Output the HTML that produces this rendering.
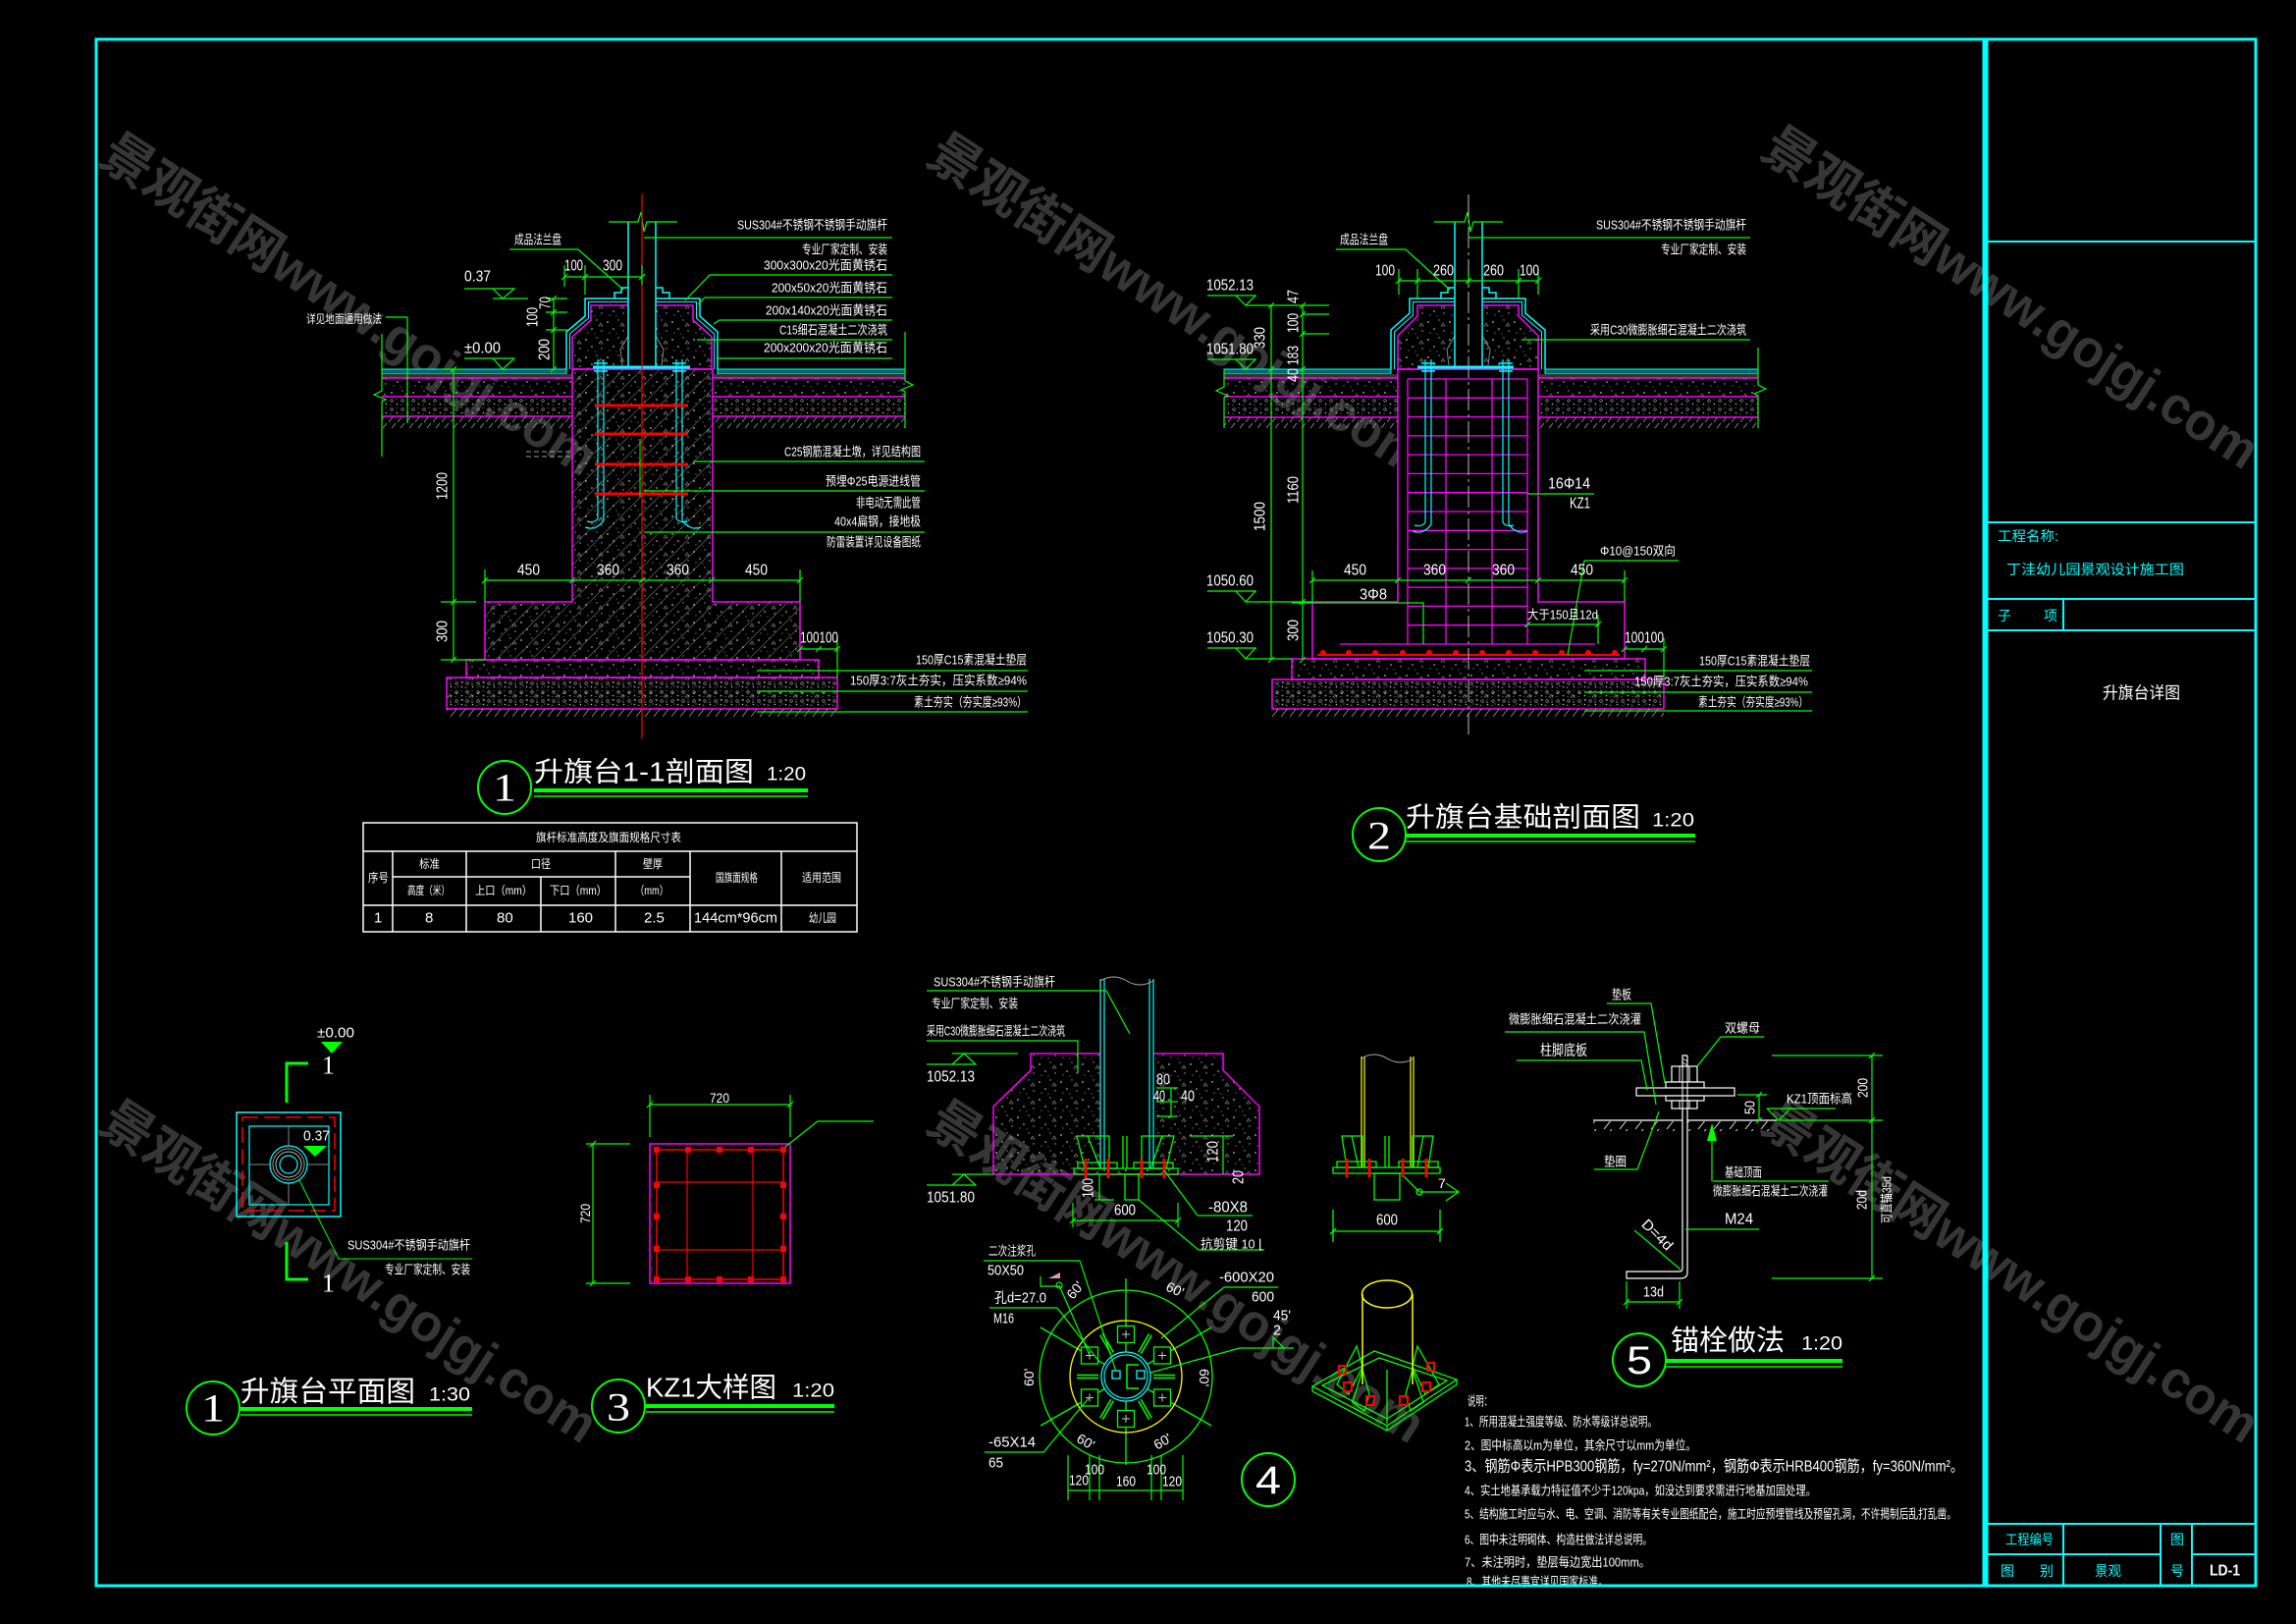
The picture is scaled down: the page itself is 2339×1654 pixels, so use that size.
<!DOCTYPE html>
<html><head><meta charset="utf-8"><style>
html,body{margin:0;padding:0;background:#000;}
svg{display:block;}
text{font-family:"Liberation Sans","Noto Sans CJK SC",sans-serif;fill:#fff;dominant-baseline:central;}
.cy{fill:#0ff;}
.wm text{fill:#363636;font-weight:bold;}
.sr{font-family:"Liberation Serif","Noto Serif CJK SC",serif;}
</style></head><body>
<svg width="2339" height="1654" viewBox="0 0 2339 1654" xmlns="http://www.w3.org/2000/svg">
<defs>
<pattern id="conc" width="22" height="18" patternUnits="userSpaceOnUse">
<circle cx="3" cy="4" r="0.9" fill="#bbb"/><circle cx="14" cy="2" r="0.7" fill="#999"/><circle cx="9" cy="11" r="0.8" fill="#ccc"/><circle cx="19" cy="13" r="0.7" fill="#aaa"/><circle cx="5" cy="15" r="0.6" fill="#999"/><circle cx="12" cy="16" r="0.5" fill="#bbb"/><path d="M16 8l2-3l2 3z" fill="none" stroke="#999" stroke-width="0.6"/>
</pattern>
<pattern id="lime" width="11" height="9" patternUnits="userSpaceOnUse">
<circle cx="3" cy="3" r="1.3" fill="none" stroke="#aaa" stroke-width="0.6"/><circle cx="8.5" cy="6.5" r="0.8" fill="#bbb"/><circle cx="8" cy="1.5" r="0.5" fill="#999"/><circle cx="2" cy="7.5" r="0.5" fill="#aaa"/>
</pattern>
<pattern id="hatch" width="13" height="13" patternUnits="userSpaceOnUse" patternTransform="rotate(45)">
<line x1="0" y1="0" x2="0" y2="13" stroke="#9a9a9a" stroke-width="0.9"/>
</pattern>
<pattern id="earth" width="9" height="10" patternUnits="userSpaceOnUse">
<line x1="0" y1="10" x2="7" y2="1" stroke="#999" stroke-width="0.8"/>
</pattern>
<pattern id="earthw" width="16" height="10" patternUnits="userSpaceOnUse">
<line x1="2" y1="10" x2="10" y2="0" stroke="#ddd" stroke-width="1"/>
</pattern>
</defs>

<!-- watermarks -->
<g class="wm" font-size="54">
<text x="108" y="150" transform="rotate(33 108 150)" textLength="590" lengthAdjust="spacingAndGlyphs">景观街网www.gojgj.com</text>
<text x="951" y="150" transform="rotate(33 951 150)" textLength="590" lengthAdjust="spacingAndGlyphs">景观街网www.gojgj.com</text>
<text x="1801" y="143" transform="rotate(33 1801 143)" textLength="590" lengthAdjust="spacingAndGlyphs">景观街网www.gojgj.com</text>
<text x="108" y="1135" transform="rotate(33 108 1135)" textLength="590" lengthAdjust="spacingAndGlyphs">景观街网www.gojgj.com</text>
<text x="951" y="1135" transform="rotate(33 951 1135)" textLength="590" lengthAdjust="spacingAndGlyphs">景观街网www.gojgj.com</text>
<text x="1801" y="1135" transform="rotate(33 1801 1135)" textLength="590" lengthAdjust="spacingAndGlyphs">景观街网www.gojgj.com</text>
</g>

<!-- frame -->
<rect x="98" y="40" width="2200" height="1575" fill="none" stroke="#0ff" stroke-width="3"/>
<line x1="2022.5" y1="40" x2="2022.5" y2="1615" stroke="#0ff" stroke-width="6"/>
<path d="M2025 246H2298M2025 532H2298M2025 610H2298M2025 642H2298M2102 610V642M2025 1552H2298M2025 1583H2201M2233 1583H2298M2102 1552V1615M2201 1552V1615M2233 1552V1615" stroke="#0ff" stroke-width="2" fill="none"/>
<g font-size="14">
<text class="cy" x="2035" y="546" textLength="62" lengthAdjust="spacingAndGlyphs">工程名称:</text>
<text class="cy" x="2044" y="580" textLength="181" lengthAdjust="spacingAndGlyphs">丁洼幼儿园景观设计施工图</text>
<text class="cy" x="2035" y="627">子</text>
<text class="cy" x="2082" y="627">项</text>
<text x="2142" y="706" font-size="17" textLength="79" lengthAdjust="spacingAndGlyphs">升旗台详图</text>
<text class="cy" x="2043" y="1568" textLength="49" lengthAdjust="spacingAndGlyphs">工程编号</text>
<text class="cy" x="2038" y="1600">图</text>
<text class="cy" x="2078" y="1600">别</text>
<text class="cy" x="2134" y="1600" textLength="27" lengthAdjust="spacingAndGlyphs">景观</text>
<text class="cy" x="2211" y="1568">图</text>
<text class="cy" x="2211" y="1600">号</text>
<text x="2251" y="1600" font-size="16" font-weight="bold" textLength="31" lengthAdjust="spacingAndGlyphs">LD-1</text>
</g>

<!-- ================= SECTION 1 ================= -->
<g>
<rect x="389" y="376" width="188" height="5" fill="#066" stroke="#0ff" stroke-width="1"/>
<rect x="731" y="376" width="191" height="5" fill="#066" stroke="#0ff" stroke-width="1"/>
<rect x="389" y="381" width="194" height="4" fill="#333"/>
<rect x="726" y="381" width="196" height="4" fill="#333"/>
<rect x="389" y="385" width="194" height="19" fill="url(#conc)"/>
<rect x="726" y="385" width="196" height="19" fill="url(#conc)"/>
<rect x="389" y="404" width="194" height="20" fill="url(#lime)"/>
<rect x="726" y="404" width="196" height="20" fill="url(#lime)"/>
<rect x="389" y="424" width="194" height="12" fill="url(#earth)"/>
<rect x="726" y="424" width="196" height="12" fill="url(#earth)"/>
<path d="M389 385H583M389 404H583M389 424H583M726 385H922M726 404H922M726 424H922" stroke="#f0f" stroke-width="1.5"/>
<path d="M583 376H726V613H815V672H494V613H583Z" fill="url(#hatch)"/>
<path d="M583 376H726V613H815V672H494V613H583Z" fill="url(#conc)" stroke="#f0f" stroke-width="1.5"/>
<rect x="475" y="672" width="359" height="18" fill="url(#conc)" stroke="#f0f" stroke-width="1.5"/>
<rect x="455" y="690" width="398" height="32" fill="url(#lime)"/>
<rect x="455" y="690" width="398" height="32" fill="url(#conc)" stroke="#f0f" stroke-width="1.5"/>
<rect x="455" y="722" width="398" height="9" fill="url(#earth)"/>
<path d="M583 376V343L602 326V311H706V326L725 343V376Z" fill="url(#conc)" stroke="#f0f" stroke-width="1.5"/>
<path d="M577 376V338L596 322V304H713V322L731 338V376" fill="none" stroke="#0ff" stroke-width="1.5"/>
<path d="M580.5 376V340L599.5 324V307.5H709.5V324L727.5 340V376" fill="none" stroke="#0ff" stroke-width="1"/>
<rect x="640" y="290" width="28" height="84" fill="#000"/>
<path d="M634 372L632 356L640 342M674 372L676 356L668 342" stroke="#888" fill="none"/>
<path d="M640 226V374M668 226V374" stroke="#0ff" stroke-width="1.5"/>
<path d="M620 226H650L653 216L656 236L659 226H690" stroke="#0f0" fill="none" stroke-width="1.2"/>
<path d="M626 304V298H633V293H640M682 304V298H675V293H668" stroke="#0ff" fill="none" stroke-width="1.5"/>
<path d="M604 374H703" stroke="#0ff" stroke-width="3"/>
<path d="M609 366V528Q606 533 598 531M615 366V530Q607 541 596 537M689 366V528Q692 533 700 531M695 366V530Q703 541 714 537" stroke="#0ff" fill="none" stroke-width="1.2"/>
<path d="M605 370H619M605 378H619M685 370H699M685 378H699" stroke="#0ff" stroke-width="1.6"/>
<path d="M606 413H701M606 442H701M606 473H701M606 503H701" stroke="#f00" stroke-width="3"/>
<path d="M536 460H582M536 465H582" stroke="#999" stroke-dasharray="5 3"/>
<line x1="654" y1="198" x2="654" y2="752" stroke="#f00" stroke-width="1.2"/>
<path d="M652 447V505" stroke="#0f0"/>
<path d="M389 340V398L381 402L393 407L389 409V465M415 323V431M393 323H415" stroke="#0f0" fill="none" stroke-width="1.2"/>
<path d="M922 338V388L930 392L918 397L922 399V436" stroke="#0f0" fill="none" stroke-width="1.2"/>
<g stroke="#0f0" stroke-width="1.2" fill="none">
<path d="M462 376V672M449 613H485M449 672H494M449 376H472"/>
<path d="M459 379l6-6M459 616l6-6M459 675l6-6"/>
<path d="M564 304V376M556 304H578M556 318H578M556 336H578"/>
<path d="M561 307l6-6M561 321l6-6M561 339l6-6M561 379l6-6"/>
<path d="M575 282H654M575 270V292M596 270V300M654 270V290"/>
<path d="M572 285l6-6M593 285l6-6M651 285l6-6"/>
<path d="M494 591H815M494 580V613M815 580V613"/>
<path d="M491 594l6-6M580 594l6-6M651 594l6-6M722 594l6-6M812 594l6-6"/>
<path d="M815 661H853M853 648V690"/>
<path d="M812 664l6-6M831 664l6-6M850 664l6-6"/>
<path d="M473 294H524L512 304L502 294M502 304H538"/>
<path d="M473 365H524L512 376L502 365"/>
<path d="M519 254H589L635 295"/>
<path d="M656 242H909M698 306L723 280H909M711 310L718 303H909M727 330L733 326H909M710 346H909M730 365H909"/>
<path d="M706 470H942M656 500H942M656 542H942"/>
<path d="M771 683H1047M771 704H1047M771 725H1047"/>
</g>
<g font-size="13">
<text x="524" y="244" textLength="48" lengthAdjust="spacingAndGlyphs">成品法兰盘</text>
<text x="312" y="325" font-size="12" textLength="77" lengthAdjust="spacingAndGlyphs">详见地面通用做法</text>
<text x="751" y="229" textLength="153" lengthAdjust="spacingAndGlyphs">SUS304#不锈钢不锈钢手动旗杆</text>
<text x="817" y="254" textLength="87" lengthAdjust="spacingAndGlyphs">专业厂家定制、安装</text>
<text x="778" y="270" textLength="126" lengthAdjust="spacingAndGlyphs">300x300x20光面黄锈石</text>
<text x="786" y="293" textLength="118" lengthAdjust="spacingAndGlyphs">200x50x20光面黄锈石</text>
<text x="780" y="316" textLength="124" lengthAdjust="spacingAndGlyphs">200x140x20光面黄锈石</text>
<text x="794" y="336" textLength="110" lengthAdjust="spacingAndGlyphs">C15细石混凝土二次浇筑</text>
<text x="778" y="354" textLength="126" lengthAdjust="spacingAndGlyphs">200x200x20光面黄锈石</text>
<text x="799" y="460" textLength="139" lengthAdjust="spacingAndGlyphs">C25钢筋混凝土墩，详见结构图</text>
<text x="841" y="490" textLength="97" lengthAdjust="spacingAndGlyphs">预埋Φ25电源进线管</text>
<text x="872" y="512" textLength="66" lengthAdjust="spacingAndGlyphs">非电动无需此管</text>
<text x="850" y="531" textLength="88" lengthAdjust="spacingAndGlyphs">40x4扁钢，接地极</text>
<text x="842" y="552" textLength="96" lengthAdjust="spacingAndGlyphs">防雷装置详见设备图纸</text>
<text x="933" y="672" textLength="113" lengthAdjust="spacingAndGlyphs">150厚C15素混凝土垫层</text>
<text x="866" y="693" textLength="180" lengthAdjust="spacingAndGlyphs">150厚3:7灰土夯实，压实系数≥94%</text>
<text x="931" y="715" textLength="115" lengthAdjust="spacingAndGlyphs">素土夯实（夯实度≥93%）</text>
</g>
<g font-size="16">
<text x="575" y="271" textLength="19" lengthAdjust="spacingAndGlyphs">100</text>
<text x="614" y="271" textLength="20" lengthAdjust="spacingAndGlyphs">300</text>
<text x="473" y="282" textLength="27" lengthAdjust="spacingAndGlyphs">0.37</text>
<text x="473" y="355" textLength="37" lengthAdjust="spacingAndGlyphs">±0.00</text>
<text x="549" y="308" transform="rotate(-90 556 308)" textLength="13" lengthAdjust="spacingAndGlyphs">70</text>
<text x="533" y="323" transform="rotate(-90 543 323)" textLength="20" lengthAdjust="spacingAndGlyphs">100</text>
<text x="544" y="356" transform="rotate(-90 555 356)" textLength="22" lengthAdjust="spacingAndGlyphs">200</text>
<text x="437" y="495" transform="rotate(-90 451 495)" textLength="28" lengthAdjust="spacingAndGlyphs">1200</text>
<text x="440" y="643" transform="rotate(-90 451 643)" textLength="22" lengthAdjust="spacingAndGlyphs">300</text>
<text x="527" y="581" textLength="23" lengthAdjust="spacingAndGlyphs">450</text>
<text x="608" y="581" textLength="23" lengthAdjust="spacingAndGlyphs">360</text>
<text x="679" y="581" textLength="23" lengthAdjust="spacingAndGlyphs">360</text>
<text x="759" y="581" textLength="23" lengthAdjust="spacingAndGlyphs">450</text>
<text x="815" y="650" textLength="39" lengthAdjust="spacingAndGlyphs">100100</text>
</g>
<circle cx="514" cy="802" r="27" fill="none" stroke="#0f0" stroke-width="2"/>
<text class="sr" x="502" y="802" font-size="40" textLength="24" lengthAdjust="spacingAndGlyphs">1</text>
<text x="544" y="786" font-size="28" textLength="224" lengthAdjust="spacingAndGlyphs">升旗台1-1剖面图</text>
<text x="781" y="789" font-size="19" textLength="40" lengthAdjust="spacingAndGlyphs">1:20</text>
<path d="M544 805H823" stroke="#0f0" stroke-width="4"/>
<path d="M544 811H823" stroke="#0f0" stroke-width="1.5"/>
</g>

<!-- table -->
<g stroke="#fff" stroke-width="1.5" fill="none">
<rect x="370" y="838" width="503" height="111"/>
<path d="M370 867H873M400 893H703M370 922H873M400 867V949M475 867V949M551 893V949M627 867V949M703 867V949M796 867V949"/>
</g>
<g font-size="12">
<text x="546" y="853" textLength="148" lengthAdjust="spacingAndGlyphs">旗杆标准高度及旗面规格尺寸表</text>
<text x="375" y="894" textLength="21" lengthAdjust="spacingAndGlyphs">序号</text>
<text x="427" y="880" textLength="21" lengthAdjust="spacingAndGlyphs">标准</text>
<text x="415" y="907" textLength="43" lengthAdjust="spacingAndGlyphs">高度（米）</text>
<text x="541" y="880" textLength="20" lengthAdjust="spacingAndGlyphs">口径</text>
<text x="484" y="907" textLength="58" lengthAdjust="spacingAndGlyphs">上口（mm）</text>
<text x="560" y="907" textLength="58" lengthAdjust="spacingAndGlyphs">下口（mm）</text>
<text x="655" y="880" textLength="20" lengthAdjust="spacingAndGlyphs">壁厚</text>
<text x="647" y="907" textLength="34" lengthAdjust="spacingAndGlyphs">（mm）</text>
<text x="729" y="894" textLength="43" lengthAdjust="spacingAndGlyphs">国旗面规格</text>
<text x="817" y="894" textLength="40" lengthAdjust="spacingAndGlyphs">适用范围</text>
<text x="381" y="935" font-size="15">1</text>
<text x="433" y="935" font-size="15">8</text>
<text x="506" y="935" font-size="15">80</text>
<text x="579" y="935" font-size="15">160</text>
<text x="656" y="935" font-size="15">2.5</text>
<text x="707" y="935" font-size="15" textLength="85" lengthAdjust="spacingAndGlyphs">144cm*96cm</text>
<text x="824" y="935" textLength="28" lengthAdjust="spacingAndGlyphs">幼儿园</text>
</g>

<!-- ================= SECTION 2 ================= -->
<g>
<rect x="1247" y="376" width="170" height="5" fill="#066" stroke="#0ff" stroke-width="1"/>
<rect x="1574" y="376" width="217" height="5" fill="#066" stroke="#0ff" stroke-width="1"/>
<rect x="1247" y="381" width="177" height="4" fill="#333"/>
<rect x="1567" y="381" width="224" height="4" fill="#333"/>
<rect x="1247" y="385" width="177" height="19" fill="url(#conc)"/>
<rect x="1567" y="385" width="224" height="19" fill="url(#conc)"/>
<rect x="1247" y="404" width="177" height="21" fill="url(#lime)"/>
<rect x="1567" y="404" width="224" height="21" fill="url(#lime)"/>
<rect x="1247" y="425" width="177" height="11" fill="url(#earth)"/>
<rect x="1567" y="425" width="224" height="11" fill="url(#earth)"/>
<path d="M1247 385H1424M1247 404H1424M1247 425H1424M1567 385H1791M1567 404H1791M1567 425H1791" stroke="#f0f" stroke-width="1.5"/>
<path d="M1424 376H1567V613H1655V671H1337V613H1424Z" fill="#000" stroke="#f0f" stroke-width="1.5"/>
<rect x="1316" y="671" width="360" height="21" fill="url(#conc)" stroke="#f0f" stroke-width="1.5"/>
<rect x="1296" y="692" width="399" height="30" fill="url(#lime)"/>
<rect x="1296" y="692" width="399" height="30" fill="url(#conc)" stroke="#f0f" stroke-width="1.5"/>
<rect x="1296" y="722" width="399" height="9" fill="url(#earth)"/>
<path d="M1434 386V656M1473 386V656M1520 386V656M1556 386V656M1434 386H1556M1434 405.3H1556M1434 424.6H1556M1434 443.9H1556M1434 463.1H1556M1434 482.4H1556M1434 501.7H1556M1434 521H1556M1434 540.3H1556M1434 559.6H1556M1434 578.9H1556M1434 598.1H1556M1434 617.4H1556M1434 636.7H1556M1365 656H1625" stroke="#f0f" stroke-width="1.3"/>
<path d="M1342 667H1650" stroke="#f00" stroke-width="2"/>
<g fill="#f00"><circle cx="1348" cy="665" r="3"/><circle cx="1374" cy="665" r="3"/><circle cx="1401" cy="665" r="3"/><circle cx="1429" cy="665" r="3"/><circle cx="1456" cy="665" r="3"/><circle cx="1483" cy="665" r="3"/><circle cx="1510" cy="665" r="3"/><circle cx="1537" cy="665" r="3"/><circle cx="1564" cy="665" r="3"/><circle cx="1591" cy="665" r="3"/><circle cx="1618" cy="665" r="3"/><circle cx="1645" cy="665" r="3"/></g>
<path d="M1424 376V342L1444 322V311H1547V322L1567 342V376Z" fill="url(#conc)" stroke="#f0f" stroke-width="1.5"/>
<path d="M1417 376V336L1436 319V304H1554V319L1574 336V376" fill="none" stroke="#0ff" stroke-width="1.5"/>
<path d="M1420.5 376V338L1439.5 321V307.5H1550.5V321L1570.5 338V376" fill="none" stroke="#0ff" stroke-width="1"/>
<rect x="1482" y="290" width="28" height="84" fill="#000"/>
<path d="M1476 372L1474 356L1482 342M1516 372L1518 356L1510 342" stroke="#888" fill="none"/>
<path d="M1482 226V374M1510 226V374" stroke="#0ff" stroke-width="1.5"/>
<path d="M1461 226H1492L1495 216L1498 236L1501 226H1531" stroke="#0f0" fill="none" stroke-width="1.2"/>
<path d="M1468 304V298H1475V293H1482M1524 304V298H1517V293H1510" stroke="#0ff" fill="none" stroke-width="1.5"/>
<path d="M1444 374H1542" stroke="#0ff" stroke-width="3"/>
<path d="M1452 366V532Q1449 537 1441 535M1458 366V534Q1450 545 1439 541M1531 366V532Q1534 537 1542 535M1537 366V534Q1545 545 1556 541" stroke="#0ff" fill="none" stroke-width="1.2"/>
<path d="M1448 370H1462M1448 378H1462M1527 370H1541M1527 378H1541" stroke="#0ff" stroke-width="1.6"/>
<line x1="1496" y1="198" x2="1496" y2="752" stroke="#aaa" stroke-width="1.1" stroke-dasharray="22 4 3 4"/>
<path d="M1247 376V394L1239 398L1251 403L1247 405V436" stroke="#0f0" fill="none" stroke-width="1.2"/>
<path d="M1791 354V392L1799 396L1787 401L1791 403V436" stroke="#0f0" fill="none" stroke-width="1.2"/>
<g stroke="#0f0" stroke-width="1.2" fill="none">
<path d="M1230 301H1280M1259 301L1269 311L1279 301M1269 311H1354"/>
<path d="M1230 366H1280M1259 366L1269 376L1279 366"/>
<path d="M1230 602H1280M1259 602L1269 613L1279 602M1269 613H1337"/>
<path d="M1230 660H1280M1259 660L1269 671L1279 660M1269 671H1316"/>
<path d="M1295 311V672M1292 314l6-6M1292 379l6-6M1292 675l6-6"/>
<path d="M1327 311V672M1327 320H1354M1327 340H1354M1324 314l6-6M1324 323l6-6M1324 343l6-6M1324 379l6-6M1324 616l6-6M1324 675l6-6"/>
<path d="M1425 286H1567M1425 274V300M1444 274V304M1496 274V290M1547 274V304M1567 274V300"/>
<path d="M1422 289l6-6M1441 289l6-6M1493 289l6-6M1544 289l6-6M1564 289l6-6"/>
<path d="M1337 591H1655M1337 581V613M1655 581V613"/>
<path d="M1334 594l6-6M1421 594l6-6M1493 594l6-6M1564 594l6-6M1652 594l6-6"/>
<path d="M1316 614H1450V656"/>
<path d="M1556 636H1628M1553 639l6-6M1625 639l6-6M1628 626V656"/>
<path d="M1614 571H1710M1614 571L1597 667"/>
<path d="M1556 503H1624"/>
<path d="M1655 661H1695M1695 650V692M1652 664l6-6M1672 664l6-6M1692 664l6-6"/>
<path d="M1496 242H1783M1550 346H1783M1361 254H1432L1477 295"/>
<path d="M1614 683H1846M1614 705H1846M1614 724H1846"/>
</g>
<g font-size="13">
<text x="1365" y="244" textLength="49" lengthAdjust="spacingAndGlyphs">成品法兰盘</text>
<text x="1626" y="229" textLength="153" lengthAdjust="spacingAndGlyphs">SUS304#不锈钢不锈钢手动旗杆</text>
<text x="1692" y="254" textLength="87" lengthAdjust="spacingAndGlyphs">专业厂家定制、安装</text>
<text x="1620" y="336" textLength="159" lengthAdjust="spacingAndGlyphs">采用C30微膨胀细石混凝土二次浇筑</text>
<text x="1731" y="673" textLength="113" lengthAdjust="spacingAndGlyphs">150厚C15素混凝土垫层</text>
<text x="1665" y="694" textLength="177" lengthAdjust="spacingAndGlyphs">150厚3:7灰土夯实，压实系数≥94%</text>
<text x="1730" y="715" textLength="112" lengthAdjust="spacingAndGlyphs">素土夯实（夯实度≥93%）</text>
<text x="1630" y="561" textLength="77" lengthAdjust="spacingAndGlyphs">Φ10@150双向</text>
<text x="1556" y="626" textLength="72" lengthAdjust="spacingAndGlyphs">大于150且12d</text>
</g>
<g font-size="16">
<text x="1229" y="291" textLength="48" lengthAdjust="spacingAndGlyphs">1052.13</text>
<text x="1229" y="356" textLength="48" lengthAdjust="spacingAndGlyphs">1051.80</text>
<text x="1229" y="592" textLength="48" lengthAdjust="spacingAndGlyphs">1050.60</text>
<text x="1229" y="650" textLength="48" lengthAdjust="spacingAndGlyphs">1050.30</text>
<text x="1273" y="344" transform="rotate(-90 1284 344)" textLength="22" lengthAdjust="spacingAndGlyphs">330</text>
<text x="1269" y="526" transform="rotate(-90 1284 526)" textLength="30" lengthAdjust="spacingAndGlyphs">1500</text>
<text x="1311" y="302" transform="rotate(-90 1318 302)" textLength="14" lengthAdjust="spacingAndGlyphs">47</text>
<text x="1308" y="329" transform="rotate(-90 1318 329)" textLength="20" lengthAdjust="spacingAndGlyphs">100</text>
<text x="1308" y="362" transform="rotate(-90 1318 362)" textLength="20" lengthAdjust="spacingAndGlyphs">183</text>
<text x="1311" y="382" transform="rotate(-90 1318 382)" textLength="14" lengthAdjust="spacingAndGlyphs">40</text>
<text x="1304" y="499" transform="rotate(-90 1318 499)" textLength="28" lengthAdjust="spacingAndGlyphs">1160</text>
<text x="1307" y="642" transform="rotate(-90 1318 642)" textLength="22" lengthAdjust="spacingAndGlyphs">300</text>
<text x="1401" y="276" textLength="20" lengthAdjust="spacingAndGlyphs">100</text>
<text x="1460" y="276" textLength="21" lengthAdjust="spacingAndGlyphs">260</text>
<text x="1511" y="276" textLength="21" lengthAdjust="spacingAndGlyphs">260</text>
<text x="1548" y="276" textLength="20" lengthAdjust="spacingAndGlyphs">100</text>
<text x="1369" y="581" textLength="23" lengthAdjust="spacingAndGlyphs">450</text>
<text x="1450" y="581" textLength="23" lengthAdjust="spacingAndGlyphs">360</text>
<text x="1520" y="581" textLength="23" lengthAdjust="spacingAndGlyphs">360</text>
<text x="1600" y="581" textLength="23" lengthAdjust="spacingAndGlyphs">450</text>
<text x="1385" y="606" textLength="28" lengthAdjust="spacingAndGlyphs">3Φ8</text>
<text x="1577" y="493" textLength="43" lengthAdjust="spacingAndGlyphs">16Φ14</text>
<text x="1599" y="513" textLength="21" lengthAdjust="spacingAndGlyphs">KZ1</text>
<text x="1655" y="650" textLength="40" lengthAdjust="spacingAndGlyphs">100100</text>
</g>
<circle cx="1405" cy="850" r="27" fill="none" stroke="#0f0" stroke-width="2"/>
<text class="sr" x="1393" y="851" font-size="40" textLength="24" lengthAdjust="spacingAndGlyphs">2</text>
<text x="1432" y="832" font-size="28" textLength="239" lengthAdjust="spacingAndGlyphs">升旗台基础剖面图</text>
<text x="1683" y="836" font-size="19" textLength="43" lengthAdjust="spacingAndGlyphs">1:20</text>
<path d="M1432 851H1727" stroke="#0f0" stroke-width="4"/>
<path d="M1432 857H1727" stroke="#0f0" stroke-width="1.5"/>
</g>

<!-- ================= PLAN ================= -->
<g>
<rect x="241" y="1133" width="106" height="106" fill="none" stroke="#0ff" stroke-width="1.5"/>
<rect x="247" y="1138" width="94" height="95" fill="none" stroke="#f00" stroke-width="1.5" stroke-dasharray="16 6"/>
<rect x="254" y="1147" width="81" height="80" fill="none" stroke="#0ff" stroke-width="1.2"/>
<path d="M294 1147V1227M254 1186H335" stroke="#888"/>
<circle cx="294" cy="1186" r="19" stroke="#0ff" fill="#000" stroke-width="1.2"/>
<circle cx="294" cy="1186" r="16" stroke="#999" fill="none"/>
<circle cx="294" cy="1186" r="13" stroke="#bbb" fill="none"/>
<circle cx="294" cy="1186" r="9" stroke="#0ff" fill="none" stroke-width="1.2"/>
<path d="M314 1083H292V1123M292 1265V1303H314" stroke="#0f0" stroke-width="3" fill="none"/>
<path d="M327 1061H349L338 1073Z" fill="#0f0"/>
<path d="M309 1167H333L321 1178Z" fill="#0f0"/>
<path d="M305 1202L345 1282H481" stroke="#0f0" fill="none"/>
<text class="sr" x="328" y="1085" font-size="26">1</text>
<text class="sr" x="328" y="1307" font-size="26">1</text>
<text x="323" y="1052" font-size="15" textLength="38" lengthAdjust="spacingAndGlyphs">±0.00</text>
<text x="309" y="1157" font-size="15" textLength="27" lengthAdjust="spacingAndGlyphs">0.37</text>
<text x="354" y="1268" font-size="13" textLength="125" lengthAdjust="spacingAndGlyphs">SUS304#不锈钢手动旗杆</text>
<text x="392" y="1293" font-size="13" textLength="87" lengthAdjust="spacingAndGlyphs">专业厂家定制、安装</text>
<circle cx="217" cy="1434" r="27" fill="none" stroke="#0f0" stroke-width="2"/>
<text class="sr" x="205" y="1434" font-size="40" textLength="24" lengthAdjust="spacingAndGlyphs">1</text>
<text x="245" y="1418" font-size="29" textLength="178" lengthAdjust="spacingAndGlyphs">升旗台平面图</text>
<text x="437" y="1421" font-size="19" textLength="42" lengthAdjust="spacingAndGlyphs">1:30</text>
<path d="M245 1435H481" stroke="#0f0" stroke-width="4"/>
<path d="M245 1441H481" stroke="#0f0" stroke-width="1.5"/>
</g>

<!-- ================= KZ1 ================= -->
<g>
<rect x="662" y="1165" width="143" height="142" fill="none" stroke="#f0f" stroke-width="1.5"/>
<rect x="669" y="1171" width="129" height="132" fill="none" stroke="#f00" stroke-width="1.5"/>
<path d="M700 1171V1303M767 1171V1303M669 1204H798M669 1273H798" stroke="#f00" stroke-width="1.2"/>
<g fill="#f00">
<rect x="666" y="1168" width="6" height="6"/><rect x="698" y="1168" width="6" height="6"/><rect x="730" y="1168" width="6" height="6"/><rect x="762" y="1168" width="6" height="6"/><rect x="795" y="1168" width="6" height="6"/>
<rect x="666" y="1300" width="6" height="6"/><rect x="698" y="1300" width="6" height="6"/><rect x="730" y="1300" width="6" height="6"/><rect x="762" y="1300" width="6" height="6"/><rect x="795" y="1300" width="6" height="6"/>
<rect x="666" y="1204" width="6" height="6"/><rect x="666" y="1236" width="6" height="6"/><rect x="666" y="1269" width="6" height="6"/>
<rect x="795" y="1204" width="6" height="6"/><rect x="795" y="1236" width="6" height="6"/><rect x="795" y="1269" width="6" height="6"/>
</g>
<g stroke="#0f0" stroke-width="1.2" fill="none">
<path d="M662 1125H805M662 1115V1158M805 1115V1158M659 1128l6-6M802 1128l6-6"/>
<path d="M604 1165V1307M597 1165H642M597 1307H642M601 1168l6-6M601 1310l6-6"/>
<path d="M800 1168L833 1142H890"/>
</g>
<text x="723" y="1118" font-size="14" textLength="20" lengthAdjust="spacingAndGlyphs">720</text>
<text x="586" y="1236" font-size="14" transform="rotate(-90 596 1236)" textLength="20" lengthAdjust="spacingAndGlyphs">720</text>
<circle cx="630" cy="1432" r="27" fill="none" stroke="#0f0" stroke-width="2"/>
<text class="sr" x="618" y="1433" font-size="40" textLength="24" lengthAdjust="spacingAndGlyphs">3</text>
<text x="658" y="1413" font-size="28" textLength="133" lengthAdjust="spacingAndGlyphs">KZ1大样图</text>
<text x="807" y="1417" font-size="19" textLength="43" lengthAdjust="spacingAndGlyphs">1:20</text>
<path d="M658 1432H850" stroke="#0f0" stroke-width="4"/>
<path d="M658 1438H850" stroke="#0f0" stroke-width="1.5"/>
</g>

<!-- ================= DETAIL 4 ================= -->
<g>
<path d="M1050 1073H1246V1090L1283 1127V1196H1012V1127L1050 1090Z" fill="url(#conc)" stroke="#f0f" stroke-width="1.5"/>
<rect x="1121" y="1000" width="54" height="190" fill="#000"/>
<path d="M1121 997V1190M1125 997V1190M1171 997V1190M1175 997V1190" stroke="#0ff" stroke-width="1.2"/>
<path d="M1121 999Q1134 991 1148 999Q1161 1007 1175 999" stroke="#aaa" fill="none"/>
<g stroke="#0f0" stroke-width="1.3" fill="none">
<path d="M1097 1157H1130V1190H1105Z M1108 1157L1121 1190"/>
<path d="M1163 1157H1196L1188 1190H1163Z M1184 1157L1172 1190"/>
<path d="M1144 1157V1190M1148 1157V1190"/>
<rect x="1094" y="1190" width="106" height="6"/>
<rect x="1098" y="1184" width="40" height="6"/><rect x="1155" y="1184" width="40" height="6"/>
<rect x="1146" y="1196" width="14" height="26"/>
</g>
<path d="M1106 1180V1200M1129 1180V1200M1163 1180V1200M1186 1180V1200" stroke="#f00" stroke-width="3"/>
<g stroke="#0f0" stroke-width="1.2" fill="none">
<path d="M944 1009H1127L1151 1053"/>
<path d="M944 1060H1098V1093"/>
<path d="M970 1073H1037M982 1073L970 1084H994Z M944 1084H994"/>
<path d="M970 1196H1012M982 1196L970 1207H994Z M944 1207H994"/>
<path d="M1193 1108V1137M1178 1108H1200M1178 1122H1200M1178 1137H1200"/>
<path d="M1246 1157V1196M1212 1157H1256"/>
<path d="M1120 1196V1222M1115 1222H1135"/>
<path d="M1093 1243H1200M1093 1225V1250M1200 1225V1250M1090 1246l6-6M1197 1246l6-6"/>
<path d="M1220 1238H1276M1220 1238L1186 1192"/>
<path d="M1221 1273H1288M1221 1273L1160 1222"/>
</g>
<g font-size="13">
<text x="951" y="1000" textLength="124" lengthAdjust="spacingAndGlyphs">SUS304#不锈钢手动旗杆</text>
<text x="949" y="1022" textLength="88" lengthAdjust="spacingAndGlyphs">专业厂家定制、安装</text>
<text x="944" y="1050" textLength="141" lengthAdjust="spacingAndGlyphs">采用C30微膨胀细石混凝土二次浇筑</text>
<text x="1223" y="1267" textLength="64" lengthAdjust="spacingAndGlyphs">抗剪键 10 ⌊</text>
<text x="1007" y="1274" textLength="48" lengthAdjust="spacingAndGlyphs">二次注浆孔</text>
</g>
<g font-size="16">
<text x="944" y="1097" textLength="49" lengthAdjust="spacingAndGlyphs">1052.13</text>
<text x="944" y="1220" textLength="49" lengthAdjust="spacingAndGlyphs">1051.80</text>
<text x="1178" y="1100" textLength="14" lengthAdjust="spacingAndGlyphs">80</text>
<text x="1175" y="1117" textLength="12" lengthAdjust="spacingAndGlyphs">40</text>
<text x="1203" y="1117" textLength="14" lengthAdjust="spacingAndGlyphs">40</text>
<text x="1225" y="1173" transform="rotate(-90 1236 1173)" textLength="22" lengthAdjust="spacingAndGlyphs">120</text>
<text x="1255" y="1199" transform="rotate(-90 1262 1199)" textLength="14" lengthAdjust="spacingAndGlyphs">20</text>
<text x="1099" y="1210" transform="rotate(-90 1109 1210)" textLength="20" lengthAdjust="spacingAndGlyphs">100</text>
<text x="1135" y="1233" textLength="22" lengthAdjust="spacingAndGlyphs">600</text>
<text x="1231" y="1230" textLength="40" lengthAdjust="spacingAndGlyphs">-80X8</text>
<text x="1249" y="1249" textLength="22" lengthAdjust="spacingAndGlyphs">120</text>
</g>
<rect x="1387" y="1080" width="53" height="109" fill="#000"/>
<path d="M1387 1076V1189M1390 1076V1189M1437 1076V1189M1440 1076V1189" stroke="#ff0" stroke-width="1.2"/>
<path d="M1387 1078Q1400 1070 1413 1078Q1427 1086 1440 1078" stroke="#aaa" fill="none"/>
<g stroke="#0f0" stroke-width="1.3" fill="none">
<path d="M1367 1157H1388V1189H1372Z M1377 1157L1384 1189"/>
<path d="M1439 1157H1460L1455 1189H1439Z M1450 1157L1444 1189"/>
<path d="M1411 1157V1189M1415 1157V1189"/>
<rect x="1358" y="1189" width="109" height="6"/>
<rect x="1362" y="1183" width="40" height="6"/><rect x="1425" y="1183" width="40" height="6"/>
<rect x="1400" y="1195" width="26" height="27"/>
<path d="M1358 1254H1467M1358 1232V1265M1467 1232V1265M1355 1257l6-6M1464 1257l6-6"/>
<path d="M1428 1196L1446 1214H1486M1473 1205L1486 1214L1473 1223"/>
<circle cx="1446" cy="1214" r="3"/>
</g>
<path d="M1372 1180V1199M1395 1180V1199M1429 1180V1199M1453 1180V1199" stroke="#f00" stroke-width="3"/>
<text x="1402" y="1243" font-size="16" textLength="22" lengthAdjust="spacingAndGlyphs">600</text>
<text x="1465" y="1205" font-size="14">7</text>
<g fill="none" stroke="#0f0" stroke-width="1.3">
<circle cx="1147" cy="1402" r="88"/>
<path d="M1147 1302V1492M1060 1352L1234 1452M1060 1452L1234 1352"/>
</g>
<circle cx="1147" cy="1402" r="57" fill="none" stroke="#ff0" stroke-width="1.3"/>
<circle cx="1147" cy="1402" r="25" fill="#000" stroke="#0ff" stroke-width="1.3"/>
<circle cx="1147" cy="1402" r="22" fill="none" stroke="#0ff" stroke-width="1.1"/>
<g stroke="#0f0" stroke-width="4.5" fill="none">
<path d="M1175 1402H1197M1097 1402H1119M1161 1426L1172 1445M1133 1426L1122 1445M1133 1378L1122 1359M1161 1378L1172 1359"/>
</g>
<g stroke="#000" stroke-width="1.4" fill="none">
<path d="M1175 1402H1197M1097 1402H1119M1161 1426L1172 1445M1133 1426L1122 1445M1133 1378L1122 1359M1161 1378L1172 1359"/>
</g>
<g stroke="#0f0" stroke-width="1.3" fill="#000">
<rect x="1138.5" y="1350.5" width="17" height="17"/><rect x="1138.5" y="1436.5" width="17" height="17"/>
<rect x="1101.5" y="1372" width="17" height="17"/><rect x="1175.5" y="1372" width="17" height="17"/>
<rect x="1101.5" y="1415" width="17" height="17"/><rect x="1175.5" y="1415" width="17" height="17"/>
</g>
<path d="M1143 1359h8M1147 1355v8M1143 1445h8M1147 1441v8M1106 1380.5h8M1110 1376.5v8M1180 1380.5h8M1184 1376.5v8M1106 1423.5h8M1110 1419.5v8M1180 1423.5h8M1184 1419.5v8" stroke="#ccc" stroke-width="1"/>
<rect x="1133" y="1396" width="8" height="8" fill="none" stroke="#0ff" stroke-width="1.3"/>
<rect x="1158" y="1396" width="8" height="8" fill="none" stroke="#0ff" stroke-width="1.3"/>
<path d="M1160 1390H1148V1414H1160" stroke="#0f0" stroke-width="1.5" fill="none"/>
<g stroke="#0f0" stroke-width="1.2" fill="none">
<path d="M1088 1518H1205M1088 1482V1528M1110 1482V1528M1120 1482V1528M1173 1482V1528M1183 1482V1528M1205 1482V1528"/>
<path d="M1002 1284H1100L1137 1397"/>
<path d="M1060 1300V1310H1080M1079 1309L1110 1380"/>
<circle cx="1079" cy="1309" r="3"/>
<path d="M1008 1332H1077L1120 1387"/>
<path d="M1247 1311H1302M1247 1311L1183 1363"/>
<path d="M1263 1373H1318M1263 1373L1172 1398M1297 1362V1373H1308Z"/>
<path d="M1003 1479H1063L1110 1423"/>
</g>
<path d="M1068 1302L1080 1296V1302Z" fill="#d9a"/>
<g font-size="15">
<text x="1006" y="1294" textLength="37" lengthAdjust="spacingAndGlyphs">50X50</text>
<text x="1013" y="1322" textLength="53" lengthAdjust="spacingAndGlyphs">孔d=27.0</text>
<text x="1012" y="1343" textLength="21" lengthAdjust="spacingAndGlyphs">M16</text>
<text x="1242" y="1301" textLength="56" lengthAdjust="spacingAndGlyphs">-600X20</text>
<text x="1275" y="1321" textLength="23" lengthAdjust="spacingAndGlyphs">600</text>
<text x="1297" y="1340" textLength="18" lengthAdjust="spacingAndGlyphs">45'</text>
<text x="1297" y="1355" textLength="8" lengthAdjust="spacingAndGlyphs">2</text>
<text x="1007" y="1469" textLength="48" lengthAdjust="spacingAndGlyphs">-65X14</text>
<text x="1007" y="1490" textLength="15" lengthAdjust="spacingAndGlyphs">65</text>
<text x="1089" y="1508" textLength="20" lengthAdjust="spacingAndGlyphs">120</text>
<text x="1105" y="1497" textLength="20" lengthAdjust="spacingAndGlyphs">100</text>
<text x="1137" y="1509" textLength="20" lengthAdjust="spacingAndGlyphs">160</text>
<text x="1168" y="1497" textLength="20" lengthAdjust="spacingAndGlyphs">100</text>
<text x="1184" y="1509" textLength="20" lengthAdjust="spacingAndGlyphs">120</text>
</g>
<g font-size="14">
<text x="1086" y="1314" transform="rotate(-50 1095 1314)">60'</text>
<text x="1188" y="1313" transform="rotate(25 1197 1313)">60'</text>
<text x="1039" y="1403" transform="rotate(-90 1048 1403)">60'</text>
<text x="1218" y="1403" transform="rotate(90 1227 1403)">60'</text>
<text x="1097" y="1468" transform="rotate(30 1106 1468)">60'</text>
<text x="1175" y="1468" transform="rotate(-30 1184 1468)">60'</text>
</g>
<g stroke="#0f0" stroke-width="1.3" fill="none">
<path d="M1337 1412L1400 1376L1484 1405L1413 1452Z"/>
<path d="M1337 1412V1417L1413 1457L1484 1410V1405M1413 1452V1457"/>
<path d="M1347 1411L1405 1383L1474 1406L1413 1445Z"/>
<path d="M1382 1371L1388 1392L1374 1420L1362 1410Z M1444 1371L1439 1392L1452 1420L1466 1410Z"/>
<path d="M1388 1395L1395 1420L1390 1437L1378 1428Z M1439 1395L1432 1420L1437 1437L1450 1428Z"/>
<path d="M1413 1395V1450"/>
</g>
<path d="M1388 1318V1410M1439 1318V1410" stroke="#ff0" stroke-width="1.5"/>
<ellipse cx="1413" cy="1318" rx="25.5" ry="14" fill="none" stroke="#ff0" stroke-width="1.5"/>
<g fill="none" stroke="#f00" stroke-width="2">
<rect x="1369" y="1408" width="8" height="9"/><rect x="1392" y="1422" width="8" height="9"/><rect x="1426" y="1422" width="8" height="9"/><rect x="1449" y="1408" width="8" height="9"/><rect x="1364" y="1391" width="7" height="8"/><rect x="1454" y="1388" width="7" height="8"/>
</g>
<circle cx="1292" cy="1507" r="27" fill="none" stroke="#0f0" stroke-width="2"/>
<text x="1279" y="1508" font-size="40" textLength="26" lengthAdjust="spacingAndGlyphs">4</text>
</g>

<!-- ================= ANCHOR 5 ================= -->
<g>
<path d="M1623 1141H1810" stroke="#fff" stroke-width="1.2"/>
<rect x="1623" y="1142" width="187" height="10" fill="url(#earthw)"/>
<rect x="1714" y="1075" width="5" height="220" fill="#000"/>
<path d="M1719 1075V1296Q1719 1302 1712 1302H1657V1295H1711Q1714 1295 1714 1292V1075H1719" stroke="#fff" stroke-width="1.2" fill="none"/>
<path d="M1714 1078l5 3M1714 1082l5 3M1714 1086l5 3" stroke="#ccc"/>
<g stroke="#fff" stroke-width="1.2" fill="#000">
<rect x="1703" y="1086" width="26" height="16"/>
<rect x="1697" y="1102" width="39" height="6"/>
<rect x="1667" y="1108" width="100" height="8"/>
<rect x="1697" y="1116" width="39" height="5"/>
<rect x="1703" y="1121" width="26" height="8"/>
</g>
<path d="M1711 1086V1102M1721 1086V1102M1711 1121V1129M1721 1121V1129M1714 1086V1129M1719 1086V1129" stroke="#fff"/>
<g stroke="#0f0" stroke-width="1.2" fill="none">
<path d="M1637 1022H1682L1696 1103"/>
<path d="M1533 1051H1675L1687 1125"/>
<path d="M1545 1080H1672L1678 1110"/>
<path d="M1753 1056H1797M1753 1056L1729 1086"/>
<path d="M1624 1191H1668L1690 1132"/>
<path d="M1800 1129H1870M1800 1129L1812 1141L1824 1129"/>
<path d="M1792 1115V1141M1770 1115H1800M1789 1118l6-6M1789 1144l6-6"/>
<path d="M1907 1075V1302M1805 1075H1918M1812 1141H1918M1805 1302H1918M1904 1078l6-6M1904 1144l6-6M1904 1305l6-6"/>
<path d="M1745 1203H1863M1744 1203V1160"/>
<path d="M1717 1252H1792"/>
<path d="M1665 1253L1712 1293"/>
<path d="M1657 1326H1711M1657 1305V1333M1711 1305V1333M1654 1329l6-6M1708 1329l6-6"/>
</g>
<path d="M1744 1144L1739 1162H1749Z" fill="#0f0"/>
<g font-size="13">
<text x="1642" y="1013" textLength="20" lengthAdjust="spacingAndGlyphs">垫板</text>
<text x="1537" y="1038" textLength="135" lengthAdjust="spacingAndGlyphs">微膨胀细石混凝土二次浇灌</text>
<text x="1569" y="1070" font-size="15" textLength="48" lengthAdjust="spacingAndGlyphs">柱脚底板</text>
<text x="1757" y="1047" textLength="36" lengthAdjust="spacingAndGlyphs">双螺母</text>
<text x="1634" y="1183" textLength="23" lengthAdjust="spacingAndGlyphs">垫圈</text>
<text x="1820" y="1119" textLength="67" lengthAdjust="spacingAndGlyphs">KZ1顶面标高</text>
<text x="1757" y="1194" textLength="38" lengthAdjust="spacingAndGlyphs">基础顶面</text>
<text x="1745" y="1213" textLength="117" lengthAdjust="spacingAndGlyphs">微膨胀细石混凝土二次浇灌</text>
<text x="1898" y="1222" transform="rotate(-90 1922 1222)" textLength="48" lengthAdjust="spacingAndGlyphs">可直锚35d</text>
</g>
<g font-size="15">
<text x="1776" y="1128" transform="rotate(-90 1783 1128)" textLength="14" lengthAdjust="spacingAndGlyphs">50</text>
<text x="1888" y="1108" transform="rotate(-90 1898 1108)" textLength="20" lengthAdjust="spacingAndGlyphs">200</text>
<text x="1887" y="1222" transform="rotate(-90 1897 1222)" textLength="20" lengthAdjust="spacingAndGlyphs">20d</text>
<text x="1757" y="1242" font-size="16" textLength="29" lengthAdjust="spacingAndGlyphs">M24</text>
<text x="1669" y="1258" transform="rotate(45 1688 1258)" textLength="38" lengthAdjust="spacingAndGlyphs">D=4d</text>
<text x="1674" y="1316" textLength="21" lengthAdjust="spacingAndGlyphs">13d</text>
</g>
<circle cx="1670" cy="1385" r="27" fill="none" stroke="#0f0" stroke-width="2"/>
<text x="1657" y="1386" font-size="40" textLength="26" lengthAdjust="spacingAndGlyphs">5</text>
<text x="1702" y="1366" font-size="29" textLength="116" lengthAdjust="spacingAndGlyphs">锚栓做法</text>
<text x="1835" y="1369" font-size="19" textLength="42" lengthAdjust="spacingAndGlyphs">1:20</text>
<path d="M1697 1386H1877" stroke="#0f0" stroke-width="4"/>
<path d="M1697 1392H1877" stroke="#0f0" stroke-width="1.5"/>
</g>

<!-- ================= NOTES ================= -->
<g font-size="13">
<text x="1495" y="1427" textLength="25" lengthAdjust="spacingAndGlyphs">说明：</text>
<text x="1492" y="1448" textLength="196" lengthAdjust="spacingAndGlyphs">1、所用混凝土强度等级、防水等级详总说明。</text>
<text x="1492" y="1472" textLength="236" lengthAdjust="spacingAndGlyphs">2、图中标高以m为单位，其余尺寸以mm为单位。</text>
<text x="1492" y="1494" font-size="16" textLength="508" lengthAdjust="spacingAndGlyphs">3、钢筋Φ表示HPB300钢筋，fy=270N/mm²，钢筋Φ表示HRB400钢筋，fy=360N/mm²。</text>
<text x="1492" y="1518" textLength="358" lengthAdjust="spacingAndGlyphs">4、实土地基承载力特征值不少于120kpa，如没达到要求需进行地基加固处理。</text>
<text x="1492" y="1542" textLength="501" lengthAdjust="spacingAndGlyphs">5、结构施工时应与水、电、空调、消防等有关专业图纸配合，施工时应预埋管线及预留孔洞，不许揭制后乱打乱凿。</text>
<text x="1492" y="1568" textLength="191" lengthAdjust="spacingAndGlyphs">6、图中未注明砌体、构造柱做法详总说明。</text>
<text x="1492" y="1591" textLength="189" lengthAdjust="spacingAndGlyphs">7、未注明时，垫层每边宽出100mm。</text>
<text x="1494" y="1611" textLength="144" lengthAdjust="spacingAndGlyphs">8、其他未尽事宜详见国家标准。</text>
</g>
<line x1="98" y1="1615" x2="2299" y2="1615" stroke="#0ff" stroke-width="3"/>
</svg>
</body></html>
